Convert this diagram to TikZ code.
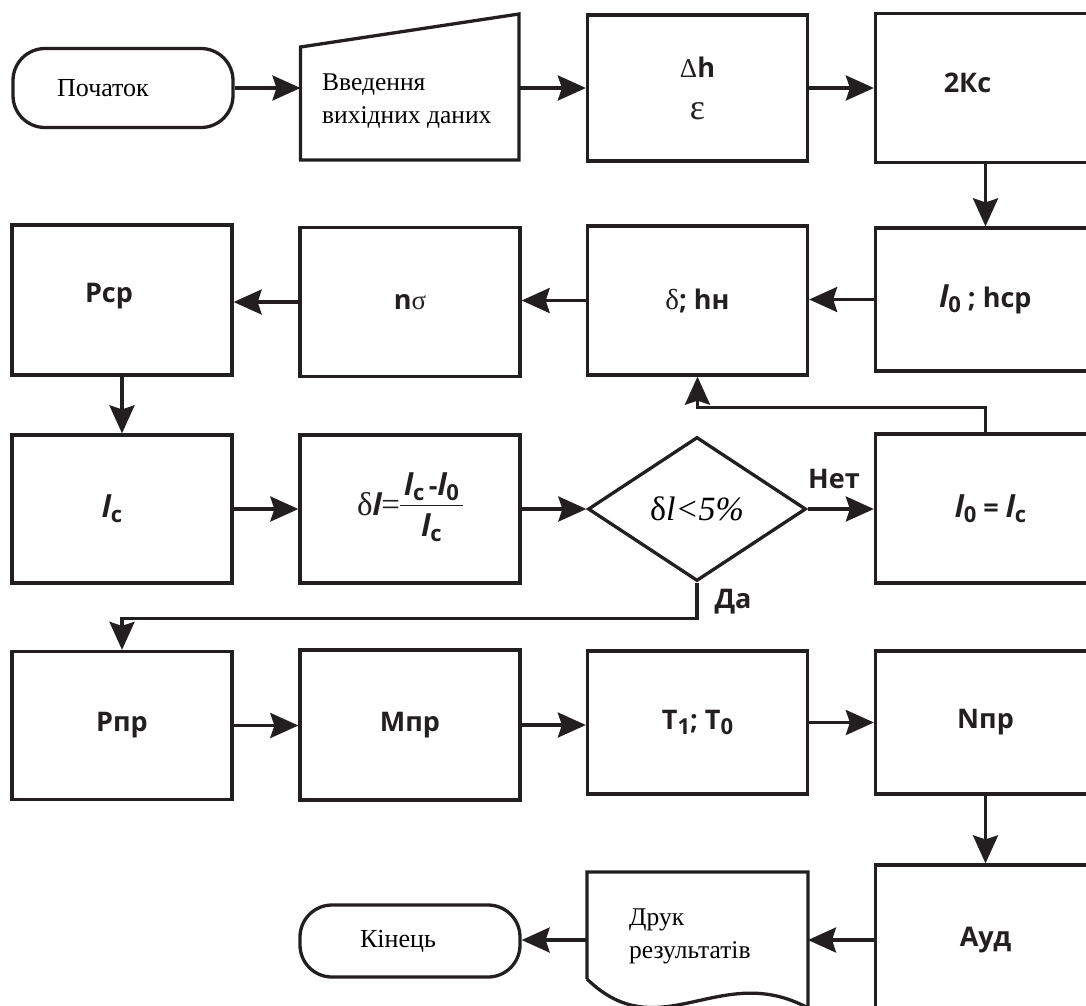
\documentclass[tikz,border=0pt]{standalone}
\usepackage{fontspec}
\setmainfont{Liberation Serif}
\newfontfamily\sfb{Open Sans}
\usetikzlibrary{arrows.meta,shapes.geometric}
\definecolor{inkc}{HTML}{231F20}
% bold sans used for the quantities in the blocks
\newcommand\bsf{\sfb\bfseries\fontsize{27}{30}\selectfont}
% serif Greek letters
\newcommand\gk[2][28]{{\rmfamily\mdseries\upshape\fontsize{#1}{30}\selectfont #2}}
% italic length symbol
\newcommand\ital{{\fontsize{30}{30}\selectfont\itshape l}}
% lowered index
\newcommand\dn[1]{\raisebox{-5pt}{\fontsize{22}{24}\selectfont #1}}
% stacked fraction
\newcommand\frc[2]{{\setlength\arrayrulewidth{1.8pt}\begin{tabular}[c]{@{\hspace{4pt}}c@{\hspace{4pt}}}#1\\\hline\rule{0pt}{30pt}#2\end{tabular}}}

\begin{document}
\begin{tikzpicture}[x=1pt,y=-1pt,
  box/.style={draw=inkc, line width=3.3pt, rectangle, minimum width=220pt,
    minimum height=148pt, inner sep=0pt, font=\bsf, text=inkc, align=center},
  term/.style={draw=inkc, line width=3.3pt, rectangle, rounded corners=32pt,
    minimum width=220pt, inner sep=0pt, font=\fontsize{26}{28}\selectfont},
  frame/.style={draw=inkc, line width=3.3pt, line join=miter},
  arr/.style={draw=inkc, line width=3.3pt,
    -{Stealth[length=28pt,width=25pt,inset=4pt]}},
  lbl/.style={font=\bsf, inner sep=0pt, text=inkc},
  txt/.style={font=\fontsize{25.5}{33}\selectfont, inner sep=0pt, align=left}]

\fill[white] (0,0) rectangle (1086,1005);
\useasboundingbox (0,0) rectangle (1086,1005);

% ---- row 1
\node[term, minimum height=79pt] (start) at (123,88) {Початок\hspace*{40pt}};

\coordinate (inSW) at (300.5,160);
\coordinate (inSE) at (519,160);
\coordinate (inNE) at (519,14);
\coordinate (inNW) at (300.5,47);
\coordinate (inW) at (300.5,88);
\coordinate (inE) at (519,88);
\draw[frame] (inSW) -- (inSE) -- (inNE) -- (inNW) -- cycle;
\node[txt, anchor=west] (intext) at (322,101) {Введення\\вихідних даних};

\node[box, minimum height=146pt] (dh) at (697.5,88)
  {\gk[27]{Δ}h\\[12pt]\gk[36]{ε}};
\node[box, minimum height=149pt] (kc) at (985.5,88)
  {\raisebox{10pt}{2Кс\hspace*{36pt}}};

% ---- row 2
\node[box, minimum height=150pt] (pcp) at (122,300)
  {\raisebox{15pt}{Рср\hspace*{26pt}}};
\node[box, minimum height=149pt] (ns) at (410,302) {n\gk[27]{σ}};
\node[box, minimum height=149pt] (dhn) at (697.5,300.5) {\gk[29]{δ}; hн};
\node[box, minimum height=143pt] (l0h) at (985.5,299.5) {\ital\dn{0} ; hср};

% ---- row 3
\node[box] (lc) at (122,509) {\ital\dn{c}\hspace*{20pt}};
\node[box] (dl) at (410,509)
  {\gk[33]{δ}\ital\gk[33]{=}\frc{\ital\dn{c}\,-\ital\dn{0}}{\ital\dn{c}}};
\node[draw=inkc, line width=3.3pt, diamond, minimum width=218pt,
  minimum height=144pt, inner sep=0pt] (dia) at (697,509)
  {\raisebox{-3pt}{\fontsize{34}{36}\selectfont δ\itshape l<5\%}};
\node[box, minimum height=149pt] (l0lc) at (985.5,508.5)
  {\raisebox{-3pt}{\ital\dn{0} = \ital\dn{c}}\hspace*{-10pt}};

% ---- row 4
\node[box, minimum height=148pt] (pnp) at (122,725.5) {Рпр};
\node[box, minimum height=150pt] (mnp) at (410,725) {Мпр};
\node[box, minimum height=143pt] (t) at (697.5,722.5) {Т\dn{1}; Т\dn{0}};
\node[box, minimum height=143pt] (nnp) at (985.5,722.5) {Nпр};

% ---- row 5
\node[box, minimum height=150pt] (aud) at (985.5,940) {Ауд};

\coordinate (prNW) at (587,872);
\coordinate (prNE) at (808,872);
\coordinate (prSE) at (808,1008);
\coordinate (prSW) at (587,979);
\coordinate (prE) at (808,940);
\coordinate (prW) at (587,940);
\draw[frame] (prSW) -- (prNW) -- (prNE) -- (prSE)
  .. controls (720,960) and (660,1050) .. (prSW);
\node[txt, anchor=west] (prtext) at (629,936.5) {Друк\\результатів};

\node[term, minimum height=72pt] (end) at (410,941) {Кінець\hspace*{24pt}};

% ---- connectors
\draw[arr] (start) -- (inW);
\draw[arr] (inE) -- (dh.west);
\draw[arr] (dh.east) -- (kc.west);
\draw[arr] (kc.south) -- (l0h.north);
\draw[arr] (l0h.west) -- (l0h.west -| dhn.east);
\draw[arr] (dhn.west) -- (dhn.west -| ns.east);
\draw[arr] (ns.west) -- (ns.west -| pcp.east);
\draw[arr] (pcp.south) -- (lc.north);
\draw[arr] (lc.east) -- (dl.west);
\draw[arr] (dl.east) -- (dia.west);
\draw[arr] (dia.east) -- (dia.east -| l0lc.west);
\draw[arr] (l0lc.north) -- ++(0,-25) -| (dhn.south);
\draw[arr] (dia.south) -- ++(0,36) -| (pnp.north);
\draw[arr] (pnp.east) -- (pnp.east -| mnp.west);
\draw[arr] (mnp.east) -- (mnp.east -| t.west);
\draw[arr] (t.east) -- (nnp.west);
\draw[arr] (nnp.south) -- (aud.north);
\draw[arr] (aud.west |- prE) -- (prE);
\draw[arr] (prW) -- (prW -| end.east);

\node[lbl] (no) at (834,479) {Нет};
\node[lbl] (yes) at (733,602) {Да};
\end{tikzpicture}
\end{document}
